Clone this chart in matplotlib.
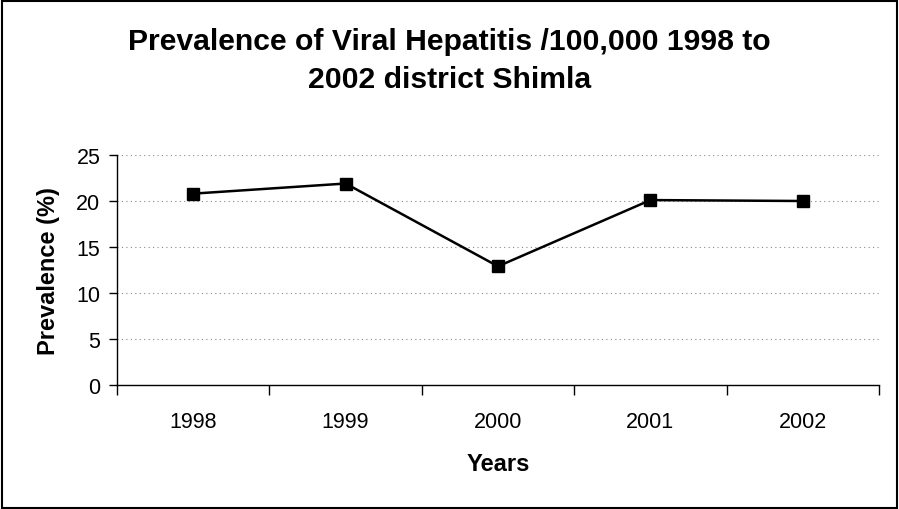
import matplotlib
matplotlib.use("Agg")
import matplotlib.pyplot as plt
from matplotlib.patches import Rectangle

years = ["1998", "1999", "2000", "2001", "2002"]
prevalence = [20.8, 21.9, 12.9, 20.1, 20.0]
y_ticks = [0, 5, 10, 15, 20, 25]

plt.rcParams["font.family"] = ["Liberation Sans", "DejaVu Sans"]

fig = plt.figure(figsize=(8.99, 5.10), dpi=100)
ax = fig.add_axes([117 / 899, 1 - 386 / 510, (879 - 117) / 899, (386 - 156) / 510])

x = list(range(len(years)))
ax.plot(x, prevalence, color="black", lw=1.8, marker="s", markersize=9,
        markerfacecolor="black", markeredgecolor="black", zorder=3)

ax.set_xlim(-0.5, len(years) - 0.5)
ax.set_ylim(0, 25)
ax.set_yticks(y_ticks)
ax.set_yticklabels([str(v) for v in y_ticks], fontsize=15.5)

# category boundaries carry the tick marks, labels sit between them
ax.set_xticks([i - 0.5 for i in range(len(years) + 1)])
ax.set_xticklabels([])
ax.set_xticks(x, minor=True)
ax.set_xticklabels(years, minor=True, fontsize=15.5)
ax.tick_params(axis="x", which="major", direction="out", length=7, width=1)
ax.tick_params(axis="x", which="minor", length=0, pad=19)
ax.tick_params(axis="y", direction="out", length=6, width=1, pad=6)

ax.grid(axis="y", which="major", color="#888888", linestyle=(0, (1, 3)), lw=0.8)
ax.set_axisbelow(True)
for side in ("top", "right"):
    ax.spines[side].set_visible(False)
ax.spines["left"].set_linewidth(1)
ax.spines["bottom"].set_linewidth(1)

ax.set_xlabel("Years", fontsize=17, fontweight="bold", labelpad=14)
ax.set_ylabel("Prevalence (%)", fontsize=17, fontweight="bold", labelpad=12)

fig.text(0.5, 1 - 61 / 510, "Prevalence of Viral Hepatitis /100,000 1998 to\n2002 district Shimla",
         ha="center", va="center", fontsize=21.7, fontweight="bold", linespacing=1.45)

fig.patches.append(Rectangle((2 / 899, 1 / 510), 895 / 899, 507 / 510, transform=fig.transFigure,
                             fill=False, edgecolor="black", lw=1.5))

fig.savefig("out.png", dpi=100, facecolor="white")
